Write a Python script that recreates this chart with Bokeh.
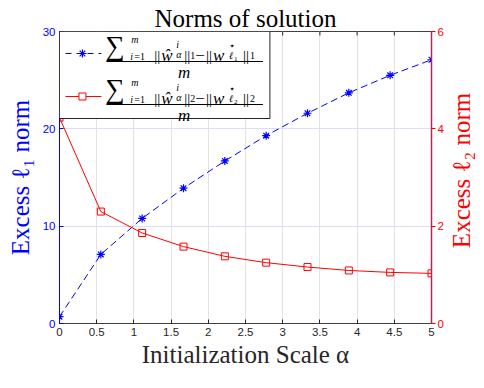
import math
from bokeh.plotting import figure
from bokeh.layouts import row
from bokeh.models import Range1d, LinearAxis, FixedTicker, Label, BoxAnnotation
from bokeh.embed import file_html
from bokeh.resources import INLINE

# ---- data ----
alpha = [0.0, 0.5556, 1.1111, 1.6667, 2.2222, 2.7778, 3.3333, 3.8889, 4.4444, 5.0]
excess_l1 = [0.7, 7.1, 10.8, 13.9, 16.7, 19.3, 21.6, 23.7, 25.5, 27.1]
excess_l2 = [4.23, 2.30, 1.86, 1.58, 1.38, 1.25, 1.16, 1.09, 1.05, 1.03]
x_ticks = [0, 0.5, 1, 1.5, 2, 2.5, 3, 3.5, 4, 4.5, 5]
x_tick_labels = ["0", "0.5", "1", "1.5", "2", "2.5", "3", "3.5", "4", "4.5", "5"]
left_ticks = [0, 10, 20, 30]
right_ticks = [0, 2, 4, 6]
grid_left = [10, 20]
X0, X1, YL0, YL1, YR0, YR1 = 0, 5, 0, 30, 0, 6

BLUE = "#0000ff"
RED = "#ff0000"
DARK = "#262626"
SERIF = "Liberation Serif"
SANS = "Liberation Sans"

W, H = 446, 372          # main figure
W2 = 30                  # strip holding the right-axis title
BL, BR, BB, BT = 59, 14, 49, 31
FW, FH = float(W - BL - BR), float(H - BB - BT)

p = figure(width=W, height=H, x_range=Range1d(X0, X1), y_range=Range1d(YL0, YL1),
           output_backend="svg", toolbar_location=None,
           min_border_left=BL, min_border_right=BR, min_border_bottom=BB, min_border_top=BT)
p.extra_y_ranges = {"r": Range1d(YR0, YR1)}
p.background_fill_color = "white"
p.border_fill_color = "white"
p.outline_line_color = "#404040"

p.title.text = "Norms of solution"
p.title.align = "center"
p.title.text_font = SERIF
p.title.text_font_size = "25px"
p.title.text_font_style = "normal"
p.title.text_color = "black"
p.title.standoff = 0

# bottom axis
xa = p.xaxis[0]
xa.ticker = FixedTicker(ticks=x_ticks)
xa.major_label_overrides = dict(zip(x_ticks, x_tick_labels))
xa.major_label_text_font = SANS
xa.major_label_text_font_size = "11.5px"
xa.major_label_text_color = DARK
xa.major_label_standoff = 4
xa.major_tick_in = 4
xa.major_tick_out = 0
xa.minor_tick_line_color = None
xa.major_tick_line_color = DARK
xa.axis_line_color = "#404040"
xa.axis_label = "Initialization Scale α"
xa.axis_label_text_font = SERIF
xa.axis_label_text_font_size = "25px"
xa.axis_label_text_font_style = "normal"
xa.axis_label_text_color = DARK
xa.axis_label_standoff = 2

# left axis
ya = p.yaxis[0]
ya.ticker = FixedTicker(ticks=left_ticks)
ya.major_label_text_font = SANS
ya.major_label_text_font_size = "11.5px"
ya.major_label_text_color = BLUE
ya.major_label_standoff = 4
ya.major_tick_in = 4
ya.major_tick_out = 0
ya.minor_tick_line_color = None
ya.major_tick_line_color = BLUE
ya.axis_line_color = BLUE
ya.axis_label = "Excess ℓ₁ norm"
ya.axis_label_text_font = SERIF
ya.axis_label_text_font_size = "25px"
ya.axis_label_text_font_style = "normal"
ya.axis_label_text_color = BLUE
ya.axis_label_standoff = 6

# right axis
ra = LinearAxis(y_range_name="r", ticker=FixedTicker(ticks=right_ticks))
ra.major_label_text_font = SANS
ra.major_label_text_font_size = "11.5px"
ra.major_label_text_color = RED
ra.major_label_standoff = 2
ra.major_tick_in = 0
ra.major_tick_out = 4
ra.minor_tick_line_color = None
ra.major_tick_line_color = RED
ra.axis_line_color = "#b3245c"
ra.axis_line_width = 1.5
p.add_layout(ra, "right")

# grids
p.xgrid.ticker = FixedTicker(ticks=x_ticks)
p.xgrid.grid_line_color = "#e3e3e3"
p.ygrid.ticker = FixedTicker(ticks=grid_left)
p.ygrid.grid_line_color = "#dcdcff"

# top box ticks (pointing down from the top edge, one per x tick)
tick_len = 4.0 / FH * (YL1 - YL0)
p.segment(x0=x_ticks, y0=[YL1] * len(x_ticks), x1=x_ticks, y1=[YL1 - tick_len] * len(x_ticks),
          line_color=DARK, line_width=1)

# ---- data series ----
p.line(alpha, excess_l1, line_color=BLUE, line_width=1, line_dash="7 4")
p.scatter(alpha, excess_l1, marker="asterisk", size=8, line_color=BLUE, line_width=1.2)
p.line(alpha, excess_l2, line_color=RED, line_width=1, y_range_name="r")
p.scatter(alpha, excess_l2, marker="square", size=7, line_color=RED, fill_color=None,
          line_width=1, y_range_name="r")


# ---- pixel offsets from the frame's top-left -> data units ----
def dx(px):
    return X0 + px / FW * (X1 - X0)


def dy(py):
    return YL1 - py / FH * (YL1 - YL0)


# ---- legend (drawn by hand) ----
p.add_layout(BoxAnnotation(left=dx(0), right=dx(211), top=dy(0), bottom=dy(87),
                           fill_color="white", fill_alpha=1.0, line_color=DARK,
                           line_width=1, line_alpha=1.0))


def lab(ox, oy, text, size, italic=False, font=SERIF, baseline="alphabetic", align="left"):
    p.add_layout(Label(x=dx(ox), y=dy(oy), text=text, text_font=font,
                       text_font_size=f"{size}px",
                       text_font_style="italic" if italic else "normal",
                       text_baseline=baseline, text_align=align, text_color="black"))


def entry(o, k, color, dash, marker):
    # sample
    r = p.line([dx(6), dx(42)], [dy(o + 22), dy(o + 22)], line_color=color,
               line_width=1, line_dash=dash)
    r.level = "overlay"
    s = p.scatter([dx(23)], [dy(o + 22)], marker=marker, size=8 if marker == "asterisk" else 7,
                  line_color=color, fill_color="white" if marker == "square" else None,
                  line_width=1.2 if marker == "asterisk" else 1)
    s.level = "overlay"
    # numerator
    lab(46, o + 14, "∑", 27, font=SERIF, baseline="middle")
    lab(72, o + 8, "m", 10, italic=True)
    lab(71, o + 25, "i", 10, italic=True)
    lab(75, o + 25, "=1", 10)
    lab(95, o + 24, "||", 15)
    lab(102, o + 24, "ŵ", 17, italic=True)
    lab(117, o + 13, "i", 10, italic=True)
    lab(117, o + 23, "α", 10, italic=True)
    lab(125, o + 24, "||", 15)
    lab(131, o + 24, k, 10)
    lab(136, o + 24, "−", 17)
    lab(147, o + 24, "||", 15)
    lab(154, o + 24, "w", 17, italic=True)
    lab(170, o + 14, "⋆", 10, font="DejaVu Sans")
    lab(170, o + 24, "ℓ", 10, italic=True)
    lab(175, o + 27, k, 7)
    lab(184, o + 24, "||", 15)
    lab(191, o + 24, k, 10)
    # fraction bar
    b = p.line([dx(47), dx(204)], [dy(o + 30), dy(o + 30)], line_color="black", line_width=1)
    b.level = "overlay"
    # denominator
    lab(125, o + 41, "m", 17, italic=True, align="center")


entry(0, "1", BLUE, "6 5", "asterisk")
entry(43, "2", RED, "solid", "square")

# ---- narrow strip on the right with the right-axis title (reads upward) ----
q = figure(width=W2, height=H, x_range=Range1d(0, 1), y_range=Range1d(0, 1),
           output_backend="svg", toolbar_location=None, x_axis_type=None, y_axis_type=None,
           min_border=0, min_border_left=0, min_border_right=0, min_border_top=0,
           min_border_bottom=0)
q.outline_line_color = None
q.grid.visible = False
q.background_fill_color = "white"
q.border_fill_color = "white"
q.add_layout(Label(x=0.5, y=1.0 - (BT + FH / 2.0) / H, text="Excess ℓ₂ norm", angle=math.pi / 2,
                   text_font=SERIF, text_font_size="25px", text_color=RED,
                   text_align="center", text_baseline="middle"))

layout = row(p, q, spacing=0)
open("out.html", "w").write(file_html(layout, INLINE))
